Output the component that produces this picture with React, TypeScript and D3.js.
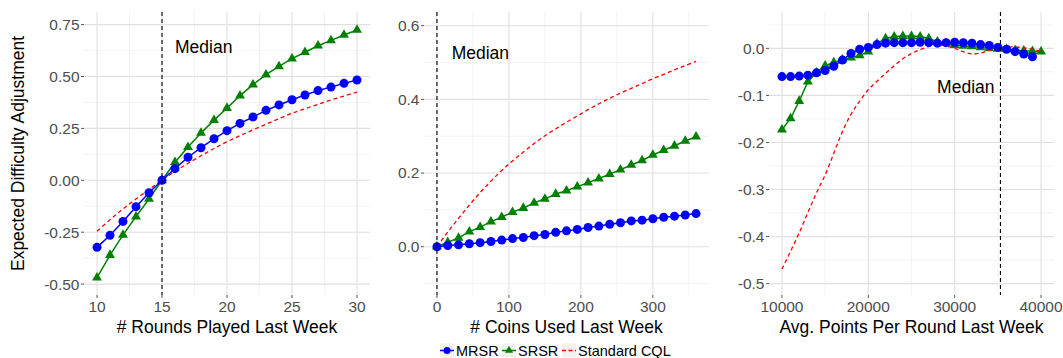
import * as d3 from 'd3';

// ---- panel 1: rounds played ----
const roundsPlayed = [10, 11, 12, 13, 14, 15, 16, 17, 18, 19, 20, 21, 22, 23, 24, 25, 26, 27, 28, 29, 30];
const roundsMRSR = [-0.323, -0.265, -0.198, -0.127, -0.06, 0, 0.056, 0.111, 0.157, 0.2, 0.239, 0.274, 0.305, 0.337, 0.363, 0.388, 0.411, 0.432, 0.449, 0.467, 0.483];
const roundsSRSR = [-0.469, -0.36, -0.263, -0.175, -0.09, 0, 0.087, 0.16, 0.228, 0.29, 0.348, 0.408, 0.461, 0.509, 0.549, 0.586, 0.617, 0.648, 0.674, 0.7, 0.724];
const roundsCQL = [-0.245, -0.19, -0.138, -0.09, -0.044, 0, 0.043, 0.082, 0.118, 0.153, 0.186, 0.215, 0.243, 0.27, 0.297, 0.323, 0.345, 0.366, 0.387, 0.406, 0.425];

// ---- panel 2: coins used ----
const coinsUsed = [0, 15, 30, 45, 60, 75, 90, 105, 120, 135, 150, 165, 180, 195, 210, 225, 240, 255, 270, 285, 300, 315, 330, 345, 360];
const coinsMRSR = [0, 0.003, 0.005, 0.008, 0.011, 0.014, 0.018, 0.022, 0.025, 0.03, 0.033, 0.039, 0.043, 0.047, 0.052, 0.056, 0.061, 0.065, 0.07, 0.072, 0.076, 0.08, 0.083, 0.086, 0.09];
const coinsSRSR = [0, 0.012, 0.024, 0.041, 0.053, 0.068, 0.08, 0.094, 0.105, 0.119, 0.13, 0.143, 0.152, 0.163, 0.174, 0.185, 0.197, 0.209, 0.222, 0.234, 0.249, 0.262, 0.274, 0.287, 0.299];
const coinsCQL = [0, 0.04, 0.077, 0.113, 0.147, 0.178, 0.207, 0.233, 0.257, 0.28, 0.301, 0.32, 0.338, 0.355, 0.372, 0.388, 0.403, 0.417, 0.43, 0.443, 0.456, 0.468, 0.48, 0.492, 0.503];

// ---- panel 3: avg points per round ----
const avgPoints = [10000, 11000, 12000, 13000, 14000, 15000, 16000, 17000, 18000, 19000, 20000, 21000, 22000, 23000, 24000, 25000, 26000, 27000, 28000, 29000, 30000, 31000, 32000, 33000, 34000, 35000, 36000, 37000, 38000, 39000, 40000];
// MRSR stops at 39000
const pointsMRSR = [-0.06, -0.06, -0.059, -0.057, -0.052, -0.047, -0.038, -0.025, -0.011, -0.002, 0.002, 0.008, 0.011, 0.012, 0.012, 0.012, 0.013, 0.012, 0.011, 0.012, 0.013, 0.012, 0.011, 0.008, 0.006, 0.002, -0.002, -0.007, -0.012, -0.018];
const pointsSRSR = [-0.173, -0.149, -0.112, -0.071, -0.052, -0.037, -0.03, -0.024, -0.02, -0.015, -0.007, 0.01, 0.021, 0.025, 0.026, 0.026, 0.025, 0.021, 0.014, 0.011, 0.007, 0.005, 0.004, 0.002, 0, -0.001, -0.002, -0.004, -0.005, -0.006, -0.007];
const pointsCQL = [-0.469, -0.431, -0.392, -0.349, -0.307, -0.269, -0.223, -0.177, -0.14, -0.112, -0.088, -0.07, -0.053, -0.037, -0.022, -0.011, -0.003, 0.004, 0.007, 0.005, 0, -0.007, -0.012, -0.01, -0.004, 0.001, 0.003, 0.003, 0.001, -0.002, -0.006];

// ---- ticks ----
const roundsXTicks = [10, 15, 20, 25, 30];
const roundsXMinor = [12.5, 17.5, 22.5, 27.5];
const roundsYTicks = [-0.5, -0.25, 0, 0.25, 0.5, 0.75];
const roundsYLabels = ['-0.50', '-0.25', '0.00', '0.25', '0.50', '0.75'];
const roundsYMinor = [-0.375, -0.125, 0.125, 0.375, 0.625];

const coinsXTicks = [0, 100, 200, 300];
const coinsXMinor = [50, 150, 250, 350];
const coinsYTicks = [0, 0.2, 0.4, 0.6];
const coinsYLabels = ['0.0', '0.2', '0.4', '0.6'];
const coinsYMinor = [-0.1, 0.1, 0.3, 0.5];

const pointsXTicks = [10000, 20000, 30000, 40000];
const pointsXMinor = [15000, 25000, 35000];
const pointsYTicks = [-0.5, -0.4, -0.3, -0.2, -0.1, 0];
const pointsYLabels = ['-0.5', '-0.4', '-0.3', '-0.2', '-0.1', '0.0'];
const pointsYMinor = [-0.45, -0.35, -0.25, -0.15, -0.05, 0.05];

const seriesNames = ['MRSR', 'SRSR', 'Standard CQL'];

const BLUE = '#0000ff';
const GREEN = '#008000';
const RED = '#ff0000';
const FONT = '"Liberation Sans", Arial, Helvetica, sans-serif';

const top = 12;
const bottom = 295;

const panels = [
  {
    left: 84, right: 370,
    xDomain: [9, 31], yDomain: [-0.5525, 0.8107],
    x: roundsPlayed, mrsr: roundsMRSR, srsr: roundsSRSR, cql: roundsCQL,
    xTicks: roundsXTicks, xMinor: roundsXMinor,
    yTicks: roundsYTicks, yLabels: roundsYLabels, yMinor: roundsYMinor,
    median: 15, label: [16, 0.642],
    title: '# Rounds Played Last Week',
  },
  {
    left: 424, right: 709,
    xDomain: [-18, 378], yDomain: [-0.1311, 0.6372],
    x: coinsUsed, mrsr: coinsMRSR, srsr: coinsSRSR, cql: coinsCQL,
    xTicks: coinsXTicks, xMinor: coinsXMinor,
    yTicks: coinsYTicks, yLabels: coinsYLabels, yMinor: coinsYMinor,
    median: 0, label: [20.4, 0.525],
    title: '# Coins Used Last Week',
  },
  {
    left: 769, right: 1054,
    xDomain: [8500, 41500], yDomain: [-0.5241, 0.0772],
    x: avgPoints, mrsr: pointsMRSR, srsr: pointsSRSR, cql: pointsCQL,
    xTicks: pointsXTicks, xMinor: pointsXMinor,
    yTicks: pointsYTicks, yLabels: pointsYLabels, yMinor: pointsYMinor,
    median: 35300, label: [27965, -0.082],
    title: 'Avg. Points Per Round Last Week',
  },
];

const triangle = d3.symbol(d3.symbolTriangle, 42)();

function Panel({ p }) {
  const x = d3.scaleLinear().domain(p.xDomain).range([p.left, p.right]);
  const y = d3.scaleLinear().domain(p.yDomain).range([bottom, top]);

  const line = (ys) =>
    d3.line<number>()
      .x((_, i) => x(p.x[i]))
      .y((d) => y(d))(ys);
  const smooth = (ys) =>
    d3.line<number>()
      .x((_, i) => x(p.x[i]))
      .y((d) => y(d))
      .curve(d3.curveCatmullRom.alpha(0.5))(ys);

  return (
    <g>
      {/* minor grid */}
      {p.yMinor.map((v) => (
        <line key={'ym' + v} x1={p.left} x2={p.right} y1={y(v)} y2={y(v)} stroke="#ececec" strokeWidth={0.6} />
      ))}
      {p.xMinor.map((v) => (
        <line key={'xm' + v} x1={x(v)} x2={x(v)} y1={top} y2={bottom} stroke="#ececec" strokeWidth={0.6} />
      ))}
      {/* major grid */}
      {p.yTicks.map((v) => (
        <line key={'yM' + v} x1={p.left} x2={p.right} y1={y(v)} y2={y(v)} stroke="#e0e0e0" strokeWidth={1.1} />
      ))}
      {p.xTicks.map((v) => (
        <line key={'xM' + v} x1={x(v)} x2={x(v)} y1={top} y2={bottom} stroke="#e0e0e0" strokeWidth={1.1} />
      ))}

      {/* SRSR */}
      <path d={line(p.srsr)} fill="none" stroke={GREEN} strokeWidth={1.5} />
      {p.srsr.map((v, i) => (
        <path key={'s' + i} d={triangle} transform={`translate(${x(p.x[i])},${y(v)})`} fill={GREEN} />
      ))}
      {/* Standard CQL */}
      <path d={smooth(p.cql)} fill="none" stroke={RED} strokeWidth={1.3} strokeDasharray="4,3" />
      {/* MRSR */}
      <path d={line(p.mrsr)} fill="none" stroke={BLUE} strokeWidth={1.5} />
      {p.mrsr.map((v, i) => (
        <circle key={'m' + i} cx={x(p.x[i])} cy={y(v)} r={4.5} fill={BLUE} />
      ))}

      {/* median */}
      <line x1={x(p.median)} x2={x(p.median)} y1={top} y2={bottom} stroke="#000" strokeWidth={1.1} strokeDasharray="4,3" />
      <text x={x(p.label[0])} y={y(p.label[1])} dy="0.35em" fontSize={17.5} fill="#000">Median</text>

      {/* axes */}
      {p.yTicks.map((v, i) => (
        <g key={'yt' + v}>
          <line x1={p.left - 3} x2={p.left} y1={y(v)} y2={y(v)} stroke="#555" strokeWidth={1} />
          <text x={p.left - 4.5} y={y(v)} dy="0.35em" textAnchor="end" fontSize={15.5} fill="#4d4d4d">{p.yLabels[i]}</text>
        </g>
      ))}
      {p.xTicks.map((v) => (
        <g key={'xt' + v}>
          <line x1={x(v)} x2={x(v)} y1={bottom} y2={bottom + 3} stroke="#555" strokeWidth={1} />
          <text x={x(v)} y={312} textAnchor="middle" fontSize={15.5} fill="#4d4d4d">{d3.format('d')(v)}</text>
        </g>
      ))}
      <text x={(p.left + p.right) / 2} y={333} textAnchor="middle" fontSize={17.5} fill="#000">{p.title}</text>
    </g>
  );
}

function Legend() {
  const keys = [
    { name: seriesNames[0], x: 440 },
    { name: seriesNames[1], x: 502 },
    { name: seriesNames[2], x: 562 },
  ];
  const cy = 350.5;
  return (
    <g>
      {keys.map((k, i) => (
        <g key={k.name}>
          <rect x={k.x} y={cy - 7} width={14} height={14} fill="#f2f2f2" />
          {i === 0 && (
            <>
              <line x1={k.x} x2={k.x + 14} y1={cy} y2={cy} stroke={BLUE} strokeWidth={1.5} />
              <circle cx={k.x + 7} cy={cy} r={3.5} fill={BLUE} />
            </>
          )}
          {i === 1 && (
            <>
              <line x1={k.x} x2={k.x + 14} y1={cy} y2={cy} stroke={GREEN} strokeWidth={1.5} />
              <path d={d3.symbol(d3.symbolTriangle, 28)()} transform={`translate(${k.x + 7},${cy})`} fill={GREEN} />
            </>
          )}
          {i === 2 && (
            <line x1={k.x} x2={k.x + 14} y1={cy} y2={cy} stroke={RED} strokeWidth={1.3} strokeDasharray="4,2.5" />
          )}
          <text x={k.x + 16} y={cy} dy="0.35em" fontSize={14.5} fill="#000">{k.name}</text>
        </g>
      ))}
    </g>
  );
}

export default function App() {
  const width = 1063;
  const height = 358;
  return (
    <svg
      width={width}
      height={height}
      viewBox={`0 0 ${width} ${height}`}
      style={{ position: 'absolute', left: 0, top: 0, background: '#fff' }}
      fontFamily={FONT}
    >
      <rect width={width} height={height} fill="#fff" />
      {panels.map((p, i) => (
        <Panel key={i} p={p} />
      ))}
      <text
        transform={`translate(18,${(top + bottom) / 2}) rotate(-90)`}
        dy="0.35em"
        textAnchor="middle"
        fontSize={17.5}
        fill="#000"
      >
        Expected Difficulty Adjustment
      </text>
      <Legend />
    </svg>
  );
}
